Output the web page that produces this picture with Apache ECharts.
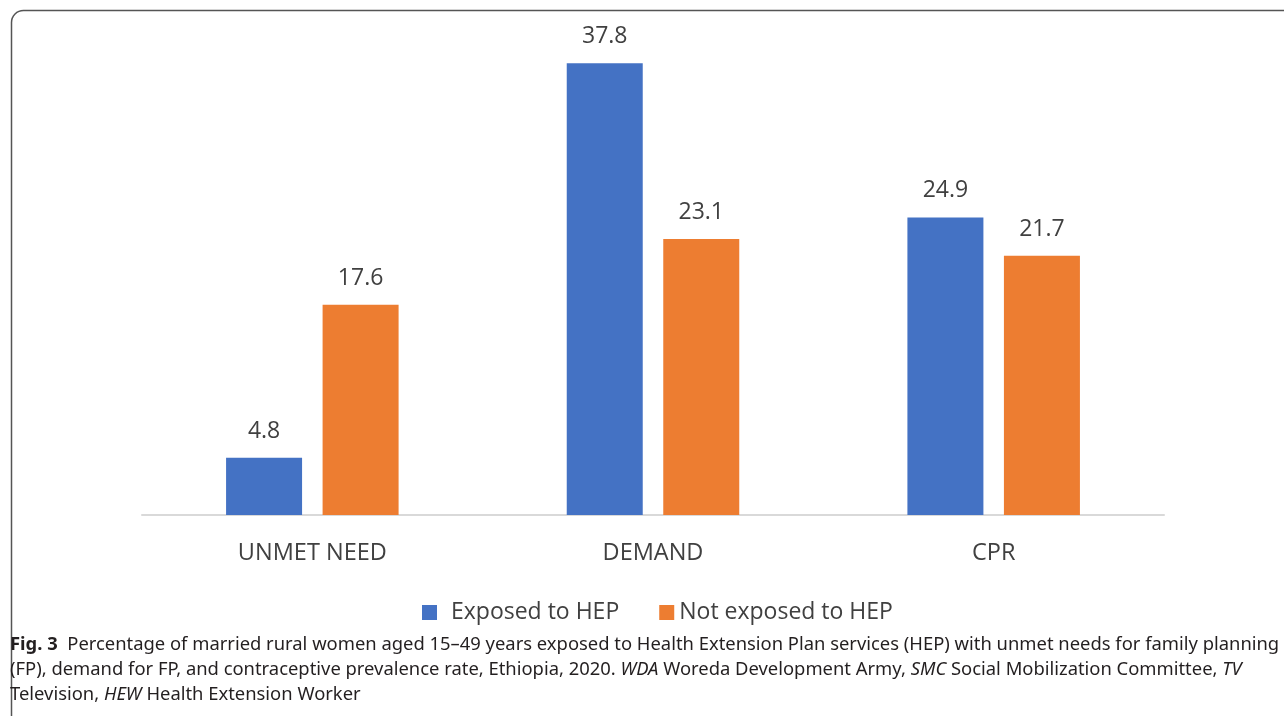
<!DOCTYPE html>
<html>
<head>
<meta charset="utf-8">
<script src="https://cdn.jsdelivr.net/npm/echarts@6/dist/echarts.min.js"></script>
<style>
html, body { margin: 0; padding: 0; background: #fff; }
#main { width: 1284px; height: 716px; }
</style>
</head>
<body>
<div id="main"></div>
<script>
// data
var categories = ['UNMET NEED', 'DEMAND', 'CPR'];
var exposed = [4.8, 37.8, 24.9];
var notExposed = [17.6, 23.1, 21.7];
var seriesNames = ['Exposed to HEP', 'Not exposed to HEP'];

var captionLines = [
	'{b|Fig. 3}  Percentage of married rural women aged 15–49 years exposed to Health Extension Plan services (HEP) with unmet needs for family planning',
	'(FP), demand for FP, and contraceptive prevalence rate, Ethiopia, 2020. {i|WDA} Woreda Development Army, {i|SMC} Social Mobilization Committee, {i|TV}',
	'Television, {i|HEW} Health Extension Worker'
];

var chartFont = 'Open Sans';
var textColor = '#404040';
var capSize = 18.4;

function initChart(){
	var myChart = echarts.init(document.getElementById('main'));

	//图注文字
	var capRich = {
		b: { fontWeight: 'bold', fontFamily: 'Noto Sans', fontSize: capSize, fill: '#231f20' },
		i: { fontStyle: 'italic', fontFamily: 'Noto Sans', fontSize: capSize, fill: '#231f20' }
	};
	var graphics = [{
		type: 'rect',
		shape: { x: 11.5, y: 10.5, width: 1300, height: 720, r: 12 },
		style: { fill: 'none', stroke: '#555', lineWidth: 1.5 },
		silent: true
	}];
	var capY = [648, 673, 698];
	for (var k = 0; k < captionLines.length; k++) {
		graphics.push({
			type: 'text',
			left: 10,
			top: capY[k] - 12,
			style: {
				text: captionLines[k],
				fontFamily: 'Noto Sans',
				fontSize: capSize,
				fill: '#231f20',
				rich: capRich
			}
		});
	}

	var option = {
		color: ['#4472C4', '#ED7D31'],
		textStyle: { fontFamily: chartFont },
		legend: {
			data: [
				{ name: seriesNames[0], textStyle: { padding: [0, 0, 0, 9] } },
				{ name: seriesNames[1] }
			],
			top: 596,
			left: 417,
			itemWidth: 15,
			itemHeight: 15,
			itemGap: 40,
			icon: 'rect',
			textStyle: { fontSize: 23, color: textColor, fontFamily: chartFont }
		},
		grid: {
			left: 142,
			width: 1022,
			top: 37,
			height: 478
		},
		xAxis: {
			type: 'category',
			data: categories,
			axisLine: { lineStyle: { color: '#d9d9d9', width: 2 } },
			axisTick: { show: false },
			axisLabel: { fontSize: 23.5, color: textColor, margin: 26, fontFamily: chartFont }
		},
		yAxis: {
			type: 'value',
			min: 0,
			max: 40,
			show: false,
			splitLine: { show: false }
		},
		series: [{
			name: seriesNames[0],
			type: 'bar',
			data: exposed,
			barWidth: 76,
			barGap: '27%',
			label: { show: true, position: 'top', distance: 15, fontSize: 23, color: textColor, fontFamily: chartFont }
		},
		{
			name: seriesNames[1],
			type: 'bar',
			data: notExposed,
			barWidth: 76,
			barGap: '27%',
			label: { show: true, position: 'top', distance: 15, fontSize: 23, color: textColor, fontFamily: chartFont }
		}],
		graphic: graphics
	};
	myChart.setOption(option);
}

initChart();
</script>
</body>
</html>
